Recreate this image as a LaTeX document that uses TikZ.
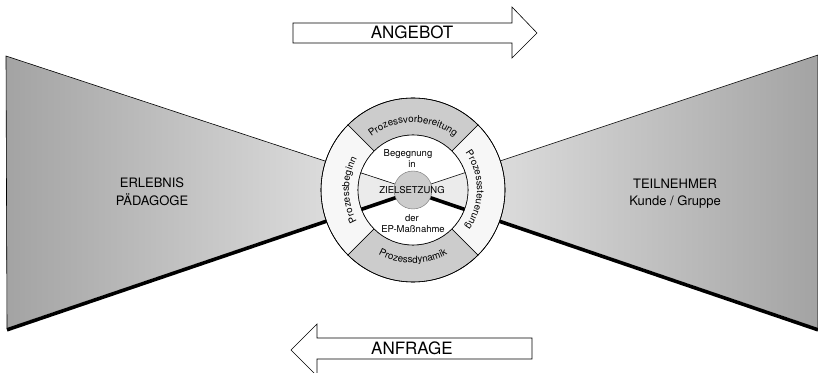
\documentclass[tikz,border=0pt]{standalone}
\usepackage{fontspec}
\setmainfont{TeX Gyre Heros}
\usetikzlibrary{decorations.text}
\begin{document}
\begin{tikzpicture}[x=1pt,y=1pt,
  thinline/.style={draw=black, line width=0.6pt},
  heavyline/.style={line width=3.6pt, line cap=butt},
  sidelbl/.style={font=\fontsize{13}{15}\selectfont, anchor=base, inner sep=0pt},
  arrowlbl/.style={font=\fontsize{17}{19}\selectfont, anchor=base, inner sep=0pt},
  ctrlbl/.style={font=\fontsize{9.5}{11}\selectfont, anchor=base, inner sep=0pt},
  bigarrow/.style={thinline, fill=white},
  grayseg/.style={thinline, fill=black!20},
  lightseg/.style={thinline, fill=black!3},
  ringtext/.style={decorate, decoration={text along path, text align=center,
     text={|\fontsize{9.8}{11}\selectfont|#1}}},
]
\useasboundingbox (0,0) rectangle (818,372);
\coordinate (C) at (413,182);
\coordinate (LT) at (6,316);
\coordinate (LB) at (7,44);
\coordinate (RT) at (818,317);
\coordinate (RB) at (818,44);

% funnels
\shade[left color=black!36, right color=black!8] (LT) -- (C) -- (LB) -- cycle;
\shade[left color=black!8, right color=black!36] (RT) -- (C) -- (RB) -- cycle;
\draw[thinline] (C) -- (LT) -- (LB);
\draw[thinline] (C) -- (RT) -- (RB);
\draw[heavyline] ([yshift=-1.8pt]LB) -- ([yshift=-1.8pt]C);
\draw[heavyline] ([yshift=-1.8pt]RB) -- ([yshift=-1.8pt]C);

\begin{scope}[shift={(C)}]
  % ring segments
  \filldraw[grayseg] (45:92) arc[start angle=45, end angle=135, radius=92]
     -- (135:55) arc[start angle=135, end angle=45, radius=55] -- cycle;
  \filldraw[lightseg] (135:92) arc[start angle=135, end angle=225, radius=92]
     -- (225:55) arc[start angle=225, end angle=135, radius=55] -- cycle;
  \filldraw[grayseg] (225:92) arc[start angle=225, end angle=315, radius=92]
     -- (315:55) arc[start angle=315, end angle=225, radius=55] -- cycle;
  \filldraw[lightseg] (315:92) arc[start angle=315, end angle=405, radius=92]
     -- (45:55) arc[start angle=45, end angle=-45, radius=55] -- cycle;
  % inner area
  \begin{scope}
    \clip (0,0) circle[radius=55];
    \fill[white] (0,0) circle[radius=55];
    \fill[black!8] (LT) -- (C) -- (LB) -- cycle;
    \fill[black!8] (RT) -- (C) -- (RB) -- cycle;
    \draw[thinline] (LT) -- (C) -- (RT);
    \draw[heavyline] ([yshift=-1.8pt]LB) -- ([yshift=-1.8pt]C);
    \draw[heavyline] ([yshift=-1.8pt]RB) -- ([yshift=-1.8pt]C);
  \end{scope}
  \draw[thinline] (0,0) circle[radius=55];
  \draw[thinline] (0,0) circle[radius=92];
  \node[circle, fill=black!20, draw=black!55, line width=0.4pt,
        minimum size=38pt, inner sep=0pt] (zcirc) at (0,0) {};
  % ring texts
  \path[ringtext=Prozessvorbereitung] (135:67.5) arc[start angle=135, end angle=45, radius=67.5];
  \path[ringtext=Prozessdynamik] (225:73) arc[start angle=225, end angle=315, radius=73];
  \path[ringtext=Prozessbeginn] (225:64) arc[start angle=225, end angle=135, radius=64];
  \path[ringtext=Prozesssteuerung] (45:64) arc[start angle=45, end angle=-45, radius=64];
\end{scope}

% centre texts
\node[ctrlbl] (beg) at (408,215.5) {Begegnung};
\node[ctrlbl] (in) at (412,204.5) {in};
\node[ctrlbl] (ziel) at (412,178.5) {ZIELSETZUNG};
\node[ctrlbl] (der) at (412,150.5) {der};
\node[ctrlbl] (ep) at (413,139.5) {EP-Maßnahme};

% side texts
\node[sidelbl] (erl) at (152,184.3) {ERLEBNIS};
\node[sidelbl] (paed) at (152,166.3) {PÄDAGOGE};
\node[sidelbl] (teil) at (675,183.3) {TEILNEHMER};
\node[sidelbl] (kunde) at (675,166.3) {Kunde / Gruppe};

% arrows
\draw[bigarrow] (293,349) -- (512,349) -- (512,365) -- (537,339) -- (512,314)
   -- (512,329) -- (293,329) -- cycle;
\draw[bigarrow] (532,34) -- (317,34) -- (317,48) -- (291,22) -- (317,-4)
   -- (317,13) -- (532,13) -- cycle;
\node[arrowlbl] (angebot) at (412,333) {ANGEBOT};
\node[arrowlbl] (anfrage) at (412,18) {ANFRAGE};
\end{tikzpicture}
\end{document}
